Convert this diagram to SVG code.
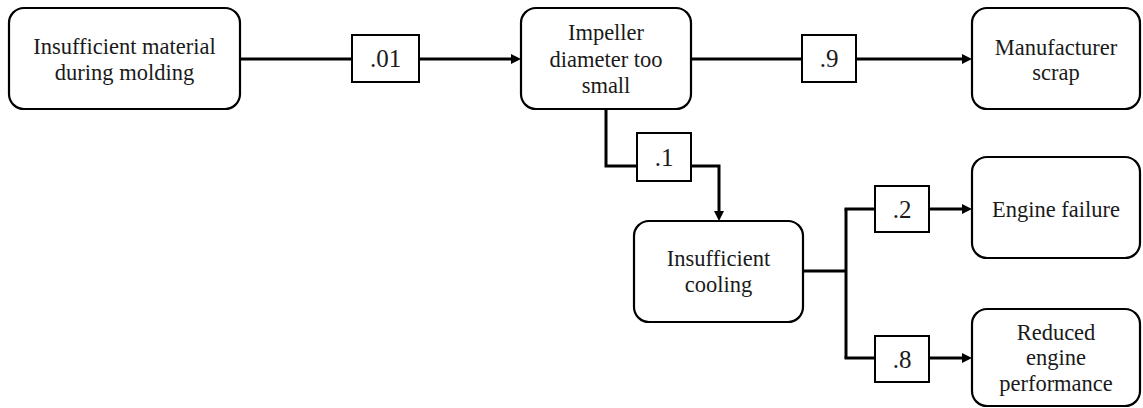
<svg xmlns="http://www.w3.org/2000/svg" width="1143" height="408" viewBox="0 0 1143 408">
  <style>
    .node { fill: #ffffff; stroke: #000000; stroke-width: 2.2; }
    .lbl { fill: #ffffff; stroke: #000000; stroke-width: 2; }
    .wire { fill: none; stroke: #000000; stroke-width: 3; }
    text { font-family: 'Liberation Serif', 'DejaVu Serif', serif; fill: #1a1a1a; text-anchor: middle; }
    .t { font-size: 22.5px; }
    .p { font-size: 25px; }
  </style>
  <defs>
    <marker id="arrow" viewBox="0 0 10 10" refX="2" refY="5" markerWidth="10" markerHeight="10" markerUnits="userSpaceOnUse" orient="auto">
      <path d="M0,0 L10,5 L0,10 z" fill="#000000"/>
    </marker>
  </defs>
  <rect width="1143" height="408" fill="#ffffff"/>

  <g id="connectors">
    <path class="wire" d="M691,59 H964" marker-end="url(#arrow)"/>
    <path class="wire" d="M240,59 H513" marker-end="url(#arrow)"/>
    <path class="wire" d="M606,109 V166 H719 V213" marker-end="url(#arrow)"/>
    <path class="wire" d="M803,271 H846"/>
    <path class="wire" d="M846,209 V358"/>
    <path class="wire" d="M844.5,209 H964" marker-end="url(#arrow)"/>
    <path class="wire" d="M844.5,358 H964" marker-end="url(#arrow)"/>

    <g id="p01"><rect class="lbl" x="352" y="35" width="67" height="47"/><text class="p" x="385.5" y="67" font-family="Liberation Serif">.01</text></g>
    <g id="p9"><rect class="lbl" x="802" y="35" width="54" height="47"/><text class="p" x="829" y="67" font-family="Liberation Serif">.9</text></g>
    <g id="p1"><rect class="lbl" x="637" y="133" width="54" height="48"/><text class="p" x="664" y="166" font-family="Liberation Serif">.1</text></g>
    <g id="p2"><rect class="lbl" x="875" y="186" width="54" height="46"/><text class="p" x="902" y="218" font-family="Liberation Serif">.2</text></g>
    <g id="p8"><rect class="lbl" x="875" y="336" width="54" height="46"/><text class="p" x="902" y="368" font-family="Liberation Serif">.8</text></g>
  </g>

  <g id="node-material">
    <rect class="node" x="9" y="8" width="231" height="101" rx="15"/>
    <text class="t" x="124.5" y="54">Insufficient material</text>
    <text class="t" x="124.5" y="80">during molding</text>
  </g>

  <g id="node-impeller">
    <rect class="node" x="521" y="8" width="170" height="101" rx="15"/>
    <text class="t" x="606" y="40">Impeller</text>
    <text class="t" x="606" y="67">diameter too</text>
    <text class="t" x="606" y="93">small</text>
  </g>

  <g id="node-scrap">
    <rect class="node" x="972" y="8" width="168" height="101" rx="15"/>
    <text class="t" x="1056" y="55">Manufacturer</text>
    <text class="t" x="1056" y="80">scrap</text>
  </g>

  <g id="node-cooling">
    <rect class="node" x="634" y="221" width="169" height="101" rx="15"/>
    <text class="t" x="718.5" y="266">Insufficient</text>
    <text class="t" x="718.5" y="292">cooling</text>
  </g>

  <g id="node-failure">
    <rect class="node" x="972" y="157" width="168" height="101" rx="15"/>
    <text class="t" x="1056" y="217">Engine failure</text>
  </g>

  <g id="node-reduced">
    <rect class="node" x="972" y="309" width="168" height="97" rx="15"/>
    <text class="t" x="1056" y="340">Reduced</text>
    <text class="t" x="1056" y="365">engine</text>
    <text class="t" x="1056" y="391">performance</text>
  </g>
</svg>
